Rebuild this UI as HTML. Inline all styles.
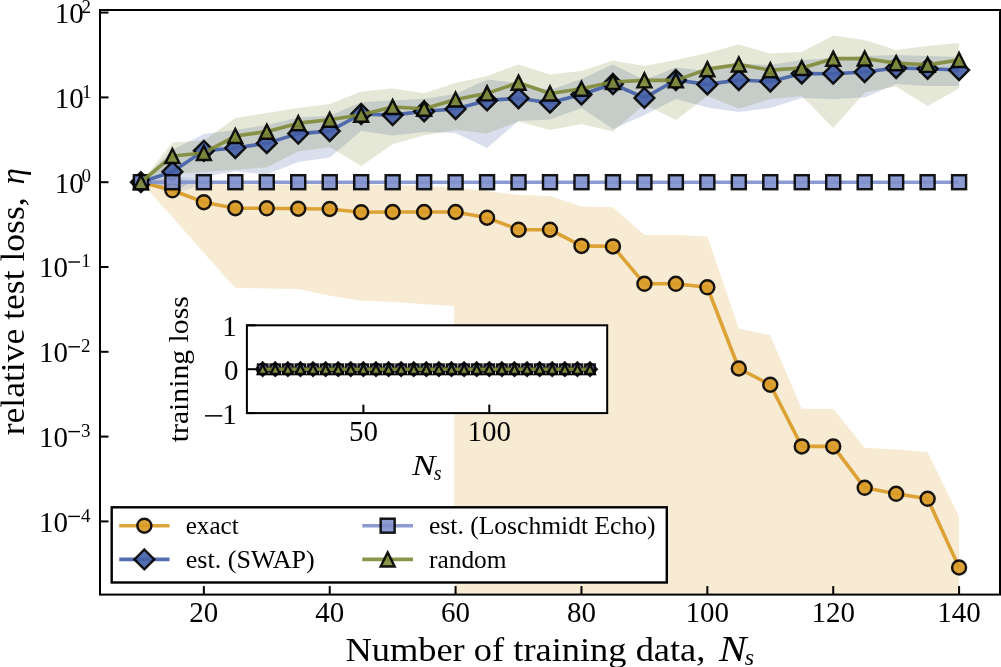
<!DOCTYPE html>
<html><head><meta charset="utf-8"><style>html,body{margin:0;padding:0;background:#fff;overflow:hidden}svg{display:block;will-change:transform}</style></head>
<body><svg width="1001" height="667" viewBox="0 0 1001 667" font-family="Liberation Serif, serif">
<rect width="1001" height="667" fill="#fff"/>
<defs><clipPath id="ax"><rect x="100" y="10" width="900" height="584.6"/></clipPath></defs>
<g clip-path="url(#ax)">
<polygon points="140.91,182.20 172.38,177.00 203.85,183.50 235.31,184.50 266.78,184.50 298.25,184.50 329.72,184.50 361.19,184.50 392.66,185.00 424.13,186.00 455.59,187.50 487.06,191.00 518.53,195.00 550.00,196.00 581.47,206.50 612.94,207.20 644.41,235.10 675.87,235.10 707.34,236.50 738.81,328.50 770.28,335.30 801.75,408.80 833.22,408.80 864.69,447.80 896.15,449.50 927.62,451.90 959.09,516.50 959.09,2000.00 454.20,2000.00 454.20,305.90 424.13,304.20 392.66,301.80 361.19,300.80 329.72,295.70 298.25,289.00 266.78,288.50 235.31,288.00 203.85,253.00 172.38,217.00 140.91,182.20" fill="#d99a25" fill-opacity="0.2"/>
<polygon points="140.91,182.20 172.38,150.00 203.85,134.00 235.31,130.00 266.78,125.00 298.25,117.60 329.72,115.80 361.19,102.30 392.66,100.50 424.13,98.70 455.59,94.00 487.06,79.60 518.53,83.00 550.00,90.00 581.47,79.00 612.94,64.40 644.41,80.00 675.87,67.60 707.34,71.00 738.81,63.60 770.28,65.00 801.75,60.00 833.22,58.00 864.69,56.00 896.15,55.00 927.62,56.00 959.09,57.00 959.09,86.00 927.62,86.00 896.15,84.00 864.69,97.50 833.22,99.00 801.75,98.00 770.28,108.00 738.81,112.00 707.34,107.50 675.87,99.00 644.41,115.00 612.94,129.00 581.47,108.00 550.00,119.50 518.53,121.00 487.06,148.00 455.59,133.00 424.13,132.00 392.66,135.60 361.19,131.00 329.72,157.40 298.25,162.00 266.78,174.50 235.31,171.30 203.85,176.50 172.38,192.00 140.91,182.20" fill="#435ea6" fill-opacity="0.2"/>
<polygon points="140.91,182.20 172.38,176.00 203.85,180.00 235.31,182.20 266.78,182.20 298.25,182.20 329.72,182.20 361.19,182.20 392.66,182.20 424.13,182.20 455.59,182.20 487.06,182.20 518.53,182.20 550.00,182.20 581.47,182.20 612.94,182.20 644.41,182.20 675.87,182.20 707.34,182.20 738.81,182.20 770.28,182.20 801.75,182.20 833.22,182.20 864.69,182.20 896.15,182.20 927.62,182.20 959.09,182.20 959.09,182.20 927.62,182.20 896.15,182.20 864.69,182.20 833.22,182.20 801.75,182.20 770.28,182.20 738.81,182.20 707.34,182.20 675.87,182.20 644.41,182.20 612.94,182.20 581.47,182.20 550.00,182.20 518.53,182.20 487.06,182.20 455.59,182.20 424.13,182.20 392.66,182.20 361.19,182.20 329.72,182.20 298.25,182.20 266.78,182.20 235.31,182.20 203.85,184.50 172.38,194.00 140.91,182.20" fill="#7f90cd" fill-opacity="0.2"/>
<polygon points="140.91,182.20 172.38,142.50 203.85,140.50 235.31,118.00 266.78,113.00 298.25,108.00 329.72,104.00 361.19,91.50 392.66,88.40 424.13,93.30 455.59,83.00 487.06,76.00 518.53,64.40 550.00,74.40 581.47,71.00 612.94,60.40 644.41,66.00 675.87,60.00 707.34,53.00 738.81,44.40 770.28,53.60 801.75,52.00 833.22,35.40 864.69,40.00 896.15,50.00 927.62,46.00 959.09,43.00 959.09,88.40 927.62,106.00 896.15,86.50 864.69,92.50 833.22,128.00 801.75,96.00 770.28,99.00 738.81,108.80 707.34,96.00 675.87,120.00 644.41,104.50 612.94,131.40 581.47,124.00 550.00,130.00 518.53,121.50 487.06,133.50 455.59,130.00 424.13,135.30 392.66,144.20 361.19,166.00 329.72,147.10 298.25,151.60 266.78,167.30 235.31,169.70 203.85,172.00 172.38,174.00 140.91,182.20" fill="#7e8937" fill-opacity="0.2"/>
<polyline points="140.91,182.20 172.38,190.30 203.85,202.20 235.31,208.20 266.78,208.30 298.25,208.70 329.72,209.00 361.19,212.20 392.66,212.00 424.13,212.00 455.59,212.00 487.06,217.70 518.53,229.70 550.00,229.70 581.47,245.90 612.94,246.40 644.41,283.80 675.87,283.80 707.34,287.30 738.81,368.50 770.28,384.70 801.75,446.40 833.22,446.40 864.69,487.80 896.15,493.80 927.62,498.80 959.09,567.50" fill="none" stroke="#d99a25" stroke-opacity="0.9" stroke-width="3.6" stroke-linejoin="round" stroke-linecap="butt"/>
<circle cx="140.91" cy="182.20" r="7.00" fill="#d99a25" stroke="#000" stroke-width="2.45" fill-opacity="0.9" stroke-opacity="0.9"/>
<circle cx="172.38" cy="190.30" r="7.00" fill="#d99a25" stroke="#000" stroke-width="2.45" fill-opacity="0.9" stroke-opacity="0.9"/>
<circle cx="203.85" cy="202.20" r="7.00" fill="#d99a25" stroke="#000" stroke-width="2.45" fill-opacity="0.9" stroke-opacity="0.9"/>
<circle cx="235.31" cy="208.20" r="7.00" fill="#d99a25" stroke="#000" stroke-width="2.45" fill-opacity="0.9" stroke-opacity="0.9"/>
<circle cx="266.78" cy="208.30" r="7.00" fill="#d99a25" stroke="#000" stroke-width="2.45" fill-opacity="0.9" stroke-opacity="0.9"/>
<circle cx="298.25" cy="208.70" r="7.00" fill="#d99a25" stroke="#000" stroke-width="2.45" fill-opacity="0.9" stroke-opacity="0.9"/>
<circle cx="329.72" cy="209.00" r="7.00" fill="#d99a25" stroke="#000" stroke-width="2.45" fill-opacity="0.9" stroke-opacity="0.9"/>
<circle cx="361.19" cy="212.20" r="7.00" fill="#d99a25" stroke="#000" stroke-width="2.45" fill-opacity="0.9" stroke-opacity="0.9"/>
<circle cx="392.66" cy="212.00" r="7.00" fill="#d99a25" stroke="#000" stroke-width="2.45" fill-opacity="0.9" stroke-opacity="0.9"/>
<circle cx="424.13" cy="212.00" r="7.00" fill="#d99a25" stroke="#000" stroke-width="2.45" fill-opacity="0.9" stroke-opacity="0.9"/>
<circle cx="455.59" cy="212.00" r="7.00" fill="#d99a25" stroke="#000" stroke-width="2.45" fill-opacity="0.9" stroke-opacity="0.9"/>
<circle cx="487.06" cy="217.70" r="7.00" fill="#d99a25" stroke="#000" stroke-width="2.45" fill-opacity="0.9" stroke-opacity="0.9"/>
<circle cx="518.53" cy="229.70" r="7.00" fill="#d99a25" stroke="#000" stroke-width="2.45" fill-opacity="0.9" stroke-opacity="0.9"/>
<circle cx="550.00" cy="229.70" r="7.00" fill="#d99a25" stroke="#000" stroke-width="2.45" fill-opacity="0.9" stroke-opacity="0.9"/>
<circle cx="581.47" cy="245.90" r="7.00" fill="#d99a25" stroke="#000" stroke-width="2.45" fill-opacity="0.9" stroke-opacity="0.9"/>
<circle cx="612.94" cy="246.40" r="7.00" fill="#d99a25" stroke="#000" stroke-width="2.45" fill-opacity="0.9" stroke-opacity="0.9"/>
<circle cx="644.41" cy="283.80" r="7.00" fill="#d99a25" stroke="#000" stroke-width="2.45" fill-opacity="0.9" stroke-opacity="0.9"/>
<circle cx="675.87" cy="283.80" r="7.00" fill="#d99a25" stroke="#000" stroke-width="2.45" fill-opacity="0.9" stroke-opacity="0.9"/>
<circle cx="707.34" cy="287.30" r="7.00" fill="#d99a25" stroke="#000" stroke-width="2.45" fill-opacity="0.9" stroke-opacity="0.9"/>
<circle cx="738.81" cy="368.50" r="7.00" fill="#d99a25" stroke="#000" stroke-width="2.45" fill-opacity="0.9" stroke-opacity="0.9"/>
<circle cx="770.28" cy="384.70" r="7.00" fill="#d99a25" stroke="#000" stroke-width="2.45" fill-opacity="0.9" stroke-opacity="0.9"/>
<circle cx="801.75" cy="446.40" r="7.00" fill="#d99a25" stroke="#000" stroke-width="2.45" fill-opacity="0.9" stroke-opacity="0.9"/>
<circle cx="833.22" cy="446.40" r="7.00" fill="#d99a25" stroke="#000" stroke-width="2.45" fill-opacity="0.9" stroke-opacity="0.9"/>
<circle cx="864.69" cy="487.80" r="7.00" fill="#d99a25" stroke="#000" stroke-width="2.45" fill-opacity="0.9" stroke-opacity="0.9"/>
<circle cx="896.15" cy="493.80" r="7.00" fill="#d99a25" stroke="#000" stroke-width="2.45" fill-opacity="0.9" stroke-opacity="0.9"/>
<circle cx="927.62" cy="498.80" r="7.00" fill="#d99a25" stroke="#000" stroke-width="2.45" fill-opacity="0.9" stroke-opacity="0.9"/>
<circle cx="959.09" cy="567.50" r="7.00" fill="#d99a25" stroke="#000" stroke-width="2.45" fill-opacity="0.9" stroke-opacity="0.9"/>
<polyline points="140.91,182.20 172.38,171.70 203.85,150.80 235.31,148.00 266.78,143.20 298.25,133.60 329.72,131.10 361.19,114.00 392.66,115.10 424.13,111.30 455.59,109.00 487.06,100.40 518.53,98.30 550.00,102.70 581.47,94.50 612.94,84.00 644.41,97.90 675.87,80.00 707.34,84.40 738.81,80.00 770.28,81.50 801.75,73.50 833.22,73.70 864.69,72.00 896.15,68.00 927.62,68.80 959.09,70.00" fill="none" stroke="#435ea6" stroke-opacity="0.9" stroke-width="3.6" stroke-linejoin="round" stroke-linecap="butt"/>
<polygon points="140.91,172.30 150.81,182.20 140.91,192.10 131.01,182.20" fill="#435ea6" stroke="#000" stroke-width="2.45" fill-opacity="0.9" stroke-opacity="0.9" stroke-linejoin="miter"/>
<polygon points="172.38,161.80 182.28,171.70 172.38,181.60 162.48,171.70" fill="#435ea6" stroke="#000" stroke-width="2.45" fill-opacity="0.9" stroke-opacity="0.9" stroke-linejoin="miter"/>
<polygon points="203.85,140.90 213.75,150.80 203.85,160.70 193.95,150.80" fill="#435ea6" stroke="#000" stroke-width="2.45" fill-opacity="0.9" stroke-opacity="0.9" stroke-linejoin="miter"/>
<polygon points="235.31,138.10 245.21,148.00 235.31,157.90 225.42,148.00" fill="#435ea6" stroke="#000" stroke-width="2.45" fill-opacity="0.9" stroke-opacity="0.9" stroke-linejoin="miter"/>
<polygon points="266.78,133.30 276.68,143.20 266.78,153.10 256.88,143.20" fill="#435ea6" stroke="#000" stroke-width="2.45" fill-opacity="0.9" stroke-opacity="0.9" stroke-linejoin="miter"/>
<polygon points="298.25,123.70 308.15,133.60 298.25,143.50 288.35,133.60" fill="#435ea6" stroke="#000" stroke-width="2.45" fill-opacity="0.9" stroke-opacity="0.9" stroke-linejoin="miter"/>
<polygon points="329.72,121.20 339.62,131.10 329.72,141.00 319.82,131.10" fill="#435ea6" stroke="#000" stroke-width="2.45" fill-opacity="0.9" stroke-opacity="0.9" stroke-linejoin="miter"/>
<polygon points="361.19,104.10 371.09,114.00 361.19,123.90 351.29,114.00" fill="#435ea6" stroke="#000" stroke-width="2.45" fill-opacity="0.9" stroke-opacity="0.9" stroke-linejoin="miter"/>
<polygon points="392.66,105.20 402.56,115.10 392.66,125.00 382.76,115.10" fill="#435ea6" stroke="#000" stroke-width="2.45" fill-opacity="0.9" stroke-opacity="0.9" stroke-linejoin="miter"/>
<polygon points="424.13,101.40 434.03,111.30 424.13,121.20 414.23,111.30" fill="#435ea6" stroke="#000" stroke-width="2.45" fill-opacity="0.9" stroke-opacity="0.9" stroke-linejoin="miter"/>
<polygon points="455.59,99.10 465.49,109.00 455.59,118.90 445.70,109.00" fill="#435ea6" stroke="#000" stroke-width="2.45" fill-opacity="0.9" stroke-opacity="0.9" stroke-linejoin="miter"/>
<polygon points="487.06,90.50 496.96,100.40 487.06,110.30 477.16,100.40" fill="#435ea6" stroke="#000" stroke-width="2.45" fill-opacity="0.9" stroke-opacity="0.9" stroke-linejoin="miter"/>
<polygon points="518.53,88.40 528.43,98.30 518.53,108.20 508.63,98.30" fill="#435ea6" stroke="#000" stroke-width="2.45" fill-opacity="0.9" stroke-opacity="0.9" stroke-linejoin="miter"/>
<polygon points="550.00,92.80 559.90,102.70 550.00,112.60 540.10,102.70" fill="#435ea6" stroke="#000" stroke-width="2.45" fill-opacity="0.9" stroke-opacity="0.9" stroke-linejoin="miter"/>
<polygon points="581.47,84.60 591.37,94.50 581.47,104.40 571.57,94.50" fill="#435ea6" stroke="#000" stroke-width="2.45" fill-opacity="0.9" stroke-opacity="0.9" stroke-linejoin="miter"/>
<polygon points="612.94,74.10 622.84,84.00 612.94,93.90 603.04,84.00" fill="#435ea6" stroke="#000" stroke-width="2.45" fill-opacity="0.9" stroke-opacity="0.9" stroke-linejoin="miter"/>
<polygon points="644.41,88.00 654.30,97.90 644.41,107.80 634.51,97.90" fill="#435ea6" stroke="#000" stroke-width="2.45" fill-opacity="0.9" stroke-opacity="0.9" stroke-linejoin="miter"/>
<polygon points="675.87,70.10 685.77,80.00 675.87,89.90 665.97,80.00" fill="#435ea6" stroke="#000" stroke-width="2.45" fill-opacity="0.9" stroke-opacity="0.9" stroke-linejoin="miter"/>
<polygon points="707.34,74.50 717.24,84.40 707.34,94.30 697.44,84.40" fill="#435ea6" stroke="#000" stroke-width="2.45" fill-opacity="0.9" stroke-opacity="0.9" stroke-linejoin="miter"/>
<polygon points="738.81,70.10 748.71,80.00 738.81,89.90 728.91,80.00" fill="#435ea6" stroke="#000" stroke-width="2.45" fill-opacity="0.9" stroke-opacity="0.9" stroke-linejoin="miter"/>
<polygon points="770.28,71.60 780.18,81.50 770.28,91.40 760.38,81.50" fill="#435ea6" stroke="#000" stroke-width="2.45" fill-opacity="0.9" stroke-opacity="0.9" stroke-linejoin="miter"/>
<polygon points="801.75,63.60 811.65,73.50 801.75,83.40 791.85,73.50" fill="#435ea6" stroke="#000" stroke-width="2.45" fill-opacity="0.9" stroke-opacity="0.9" stroke-linejoin="miter"/>
<polygon points="833.22,63.80 843.12,73.70 833.22,83.60 823.32,73.70" fill="#435ea6" stroke="#000" stroke-width="2.45" fill-opacity="0.9" stroke-opacity="0.9" stroke-linejoin="miter"/>
<polygon points="864.69,62.10 874.58,72.00 864.69,81.90 854.79,72.00" fill="#435ea6" stroke="#000" stroke-width="2.45" fill-opacity="0.9" stroke-opacity="0.9" stroke-linejoin="miter"/>
<polygon points="896.15,58.10 906.05,68.00 896.15,77.90 886.25,68.00" fill="#435ea6" stroke="#000" stroke-width="2.45" fill-opacity="0.9" stroke-opacity="0.9" stroke-linejoin="miter"/>
<polygon points="927.62,58.90 937.52,68.80 927.62,78.70 917.72,68.80" fill="#435ea6" stroke="#000" stroke-width="2.45" fill-opacity="0.9" stroke-opacity="0.9" stroke-linejoin="miter"/>
<polygon points="959.09,60.10 968.99,70.00 959.09,79.90 949.19,70.00" fill="#435ea6" stroke="#000" stroke-width="2.45" fill-opacity="0.9" stroke-opacity="0.9" stroke-linejoin="miter"/>
<polyline points="140.91,182.20 172.38,182.20 203.85,182.20 235.31,182.20 266.78,182.20 298.25,182.20 329.72,182.20 361.19,182.20 392.66,182.20 424.13,182.20 455.59,182.20 487.06,182.20 518.53,182.20 550.00,182.20 581.47,182.20 612.94,182.20 644.41,182.20 675.87,182.20 707.34,182.20 738.81,182.20 770.28,182.20 801.75,182.20 833.22,182.20 864.69,182.20 896.15,182.20 927.62,182.20 959.09,182.20" fill="none" stroke="#7f90cd" stroke-opacity="0.9" stroke-width="3.6" stroke-linejoin="round" stroke-linecap="butt"/>
<rect x="133.91" y="175.20" width="14.00" height="14.00" fill="#7f90cd" stroke="#000" stroke-width="2.45" fill-opacity="0.9" stroke-opacity="0.9"/>
<rect x="165.38" y="175.20" width="14.00" height="14.00" fill="#7f90cd" stroke="#000" stroke-width="2.45" fill-opacity="0.9" stroke-opacity="0.9"/>
<rect x="196.85" y="175.20" width="14.00" height="14.00" fill="#7f90cd" stroke="#000" stroke-width="2.45" fill-opacity="0.9" stroke-opacity="0.9"/>
<rect x="228.31" y="175.20" width="14.00" height="14.00" fill="#7f90cd" stroke="#000" stroke-width="2.45" fill-opacity="0.9" stroke-opacity="0.9"/>
<rect x="259.78" y="175.20" width="14.00" height="14.00" fill="#7f90cd" stroke="#000" stroke-width="2.45" fill-opacity="0.9" stroke-opacity="0.9"/>
<rect x="291.25" y="175.20" width="14.00" height="14.00" fill="#7f90cd" stroke="#000" stroke-width="2.45" fill-opacity="0.9" stroke-opacity="0.9"/>
<rect x="322.72" y="175.20" width="14.00" height="14.00" fill="#7f90cd" stroke="#000" stroke-width="2.45" fill-opacity="0.9" stroke-opacity="0.9"/>
<rect x="354.19" y="175.20" width="14.00" height="14.00" fill="#7f90cd" stroke="#000" stroke-width="2.45" fill-opacity="0.9" stroke-opacity="0.9"/>
<rect x="385.66" y="175.20" width="14.00" height="14.00" fill="#7f90cd" stroke="#000" stroke-width="2.45" fill-opacity="0.9" stroke-opacity="0.9"/>
<rect x="417.13" y="175.20" width="14.00" height="14.00" fill="#7f90cd" stroke="#000" stroke-width="2.45" fill-opacity="0.9" stroke-opacity="0.9"/>
<rect x="448.59" y="175.20" width="14.00" height="14.00" fill="#7f90cd" stroke="#000" stroke-width="2.45" fill-opacity="0.9" stroke-opacity="0.9"/>
<rect x="480.06" y="175.20" width="14.00" height="14.00" fill="#7f90cd" stroke="#000" stroke-width="2.45" fill-opacity="0.9" stroke-opacity="0.9"/>
<rect x="511.53" y="175.20" width="14.00" height="14.00" fill="#7f90cd" stroke="#000" stroke-width="2.45" fill-opacity="0.9" stroke-opacity="0.9"/>
<rect x="543.00" y="175.20" width="14.00" height="14.00" fill="#7f90cd" stroke="#000" stroke-width="2.45" fill-opacity="0.9" stroke-opacity="0.9"/>
<rect x="574.47" y="175.20" width="14.00" height="14.00" fill="#7f90cd" stroke="#000" stroke-width="2.45" fill-opacity="0.9" stroke-opacity="0.9"/>
<rect x="605.94" y="175.20" width="14.00" height="14.00" fill="#7f90cd" stroke="#000" stroke-width="2.45" fill-opacity="0.9" stroke-opacity="0.9"/>
<rect x="637.41" y="175.20" width="14.00" height="14.00" fill="#7f90cd" stroke="#000" stroke-width="2.45" fill-opacity="0.9" stroke-opacity="0.9"/>
<rect x="668.87" y="175.20" width="14.00" height="14.00" fill="#7f90cd" stroke="#000" stroke-width="2.45" fill-opacity="0.9" stroke-opacity="0.9"/>
<rect x="700.34" y="175.20" width="14.00" height="14.00" fill="#7f90cd" stroke="#000" stroke-width="2.45" fill-opacity="0.9" stroke-opacity="0.9"/>
<rect x="731.81" y="175.20" width="14.00" height="14.00" fill="#7f90cd" stroke="#000" stroke-width="2.45" fill-opacity="0.9" stroke-opacity="0.9"/>
<rect x="763.28" y="175.20" width="14.00" height="14.00" fill="#7f90cd" stroke="#000" stroke-width="2.45" fill-opacity="0.9" stroke-opacity="0.9"/>
<rect x="794.75" y="175.20" width="14.00" height="14.00" fill="#7f90cd" stroke="#000" stroke-width="2.45" fill-opacity="0.9" stroke-opacity="0.9"/>
<rect x="826.22" y="175.20" width="14.00" height="14.00" fill="#7f90cd" stroke="#000" stroke-width="2.45" fill-opacity="0.9" stroke-opacity="0.9"/>
<rect x="857.69" y="175.20" width="14.00" height="14.00" fill="#7f90cd" stroke="#000" stroke-width="2.45" fill-opacity="0.9" stroke-opacity="0.9"/>
<rect x="889.15" y="175.20" width="14.00" height="14.00" fill="#7f90cd" stroke="#000" stroke-width="2.45" fill-opacity="0.9" stroke-opacity="0.9"/>
<rect x="920.62" y="175.20" width="14.00" height="14.00" fill="#7f90cd" stroke="#000" stroke-width="2.45" fill-opacity="0.9" stroke-opacity="0.9"/>
<rect x="952.09" y="175.20" width="14.00" height="14.00" fill="#7f90cd" stroke="#000" stroke-width="2.45" fill-opacity="0.9" stroke-opacity="0.9"/>
<polyline points="140.91,182.20 172.38,156.05 203.85,152.95 235.31,136.05 266.78,131.65 298.25,123.15 329.72,119.75 361.19,114.75 392.66,106.95 424.13,108.75 455.59,99.55 487.06,93.35 518.53,82.65 550.00,93.45 581.47,88.75 612.94,81.95 644.41,80.35 675.87,80.35 707.34,69.15 738.81,64.45 770.28,70.15 801.75,67.95 833.22,58.65 864.69,58.45 896.15,63.15 927.62,64.85 959.09,59.95" fill="none" stroke="#7e8937" stroke-opacity="0.9" stroke-width="3.6" stroke-linejoin="round" stroke-linecap="butt"/>
<polygon points="140.91,175.20 147.91,189.20 133.91,189.20" fill="#7e8937" stroke="#000" stroke-width="2.45" fill-opacity="0.9" stroke-opacity="0.9" stroke-linejoin="miter"/>
<polygon points="172.38,149.05 179.38,163.05 165.38,163.05" fill="#7e8937" stroke="#000" stroke-width="2.45" fill-opacity="0.9" stroke-opacity="0.9" stroke-linejoin="miter"/>
<polygon points="203.85,145.95 210.85,159.95 196.85,159.95" fill="#7e8937" stroke="#000" stroke-width="2.45" fill-opacity="0.9" stroke-opacity="0.9" stroke-linejoin="miter"/>
<polygon points="235.31,129.05 242.31,143.05 228.31,143.05" fill="#7e8937" stroke="#000" stroke-width="2.45" fill-opacity="0.9" stroke-opacity="0.9" stroke-linejoin="miter"/>
<polygon points="266.78,124.65 273.78,138.65 259.78,138.65" fill="#7e8937" stroke="#000" stroke-width="2.45" fill-opacity="0.9" stroke-opacity="0.9" stroke-linejoin="miter"/>
<polygon points="298.25,116.15 305.25,130.15 291.25,130.15" fill="#7e8937" stroke="#000" stroke-width="2.45" fill-opacity="0.9" stroke-opacity="0.9" stroke-linejoin="miter"/>
<polygon points="329.72,112.75 336.72,126.75 322.72,126.75" fill="#7e8937" stroke="#000" stroke-width="2.45" fill-opacity="0.9" stroke-opacity="0.9" stroke-linejoin="miter"/>
<polygon points="361.19,107.75 368.19,121.75 354.19,121.75" fill="#7e8937" stroke="#000" stroke-width="2.45" fill-opacity="0.9" stroke-opacity="0.9" stroke-linejoin="miter"/>
<polygon points="392.66,99.95 399.66,113.95 385.66,113.95" fill="#7e8937" stroke="#000" stroke-width="2.45" fill-opacity="0.9" stroke-opacity="0.9" stroke-linejoin="miter"/>
<polygon points="424.13,101.75 431.13,115.75 417.13,115.75" fill="#7e8937" stroke="#000" stroke-width="2.45" fill-opacity="0.9" stroke-opacity="0.9" stroke-linejoin="miter"/>
<polygon points="455.59,92.55 462.59,106.55 448.59,106.55" fill="#7e8937" stroke="#000" stroke-width="2.45" fill-opacity="0.9" stroke-opacity="0.9" stroke-linejoin="miter"/>
<polygon points="487.06,86.35 494.06,100.35 480.06,100.35" fill="#7e8937" stroke="#000" stroke-width="2.45" fill-opacity="0.9" stroke-opacity="0.9" stroke-linejoin="miter"/>
<polygon points="518.53,75.65 525.53,89.65 511.53,89.65" fill="#7e8937" stroke="#000" stroke-width="2.45" fill-opacity="0.9" stroke-opacity="0.9" stroke-linejoin="miter"/>
<polygon points="550.00,86.45 557.00,100.45 543.00,100.45" fill="#7e8937" stroke="#000" stroke-width="2.45" fill-opacity="0.9" stroke-opacity="0.9" stroke-linejoin="miter"/>
<polygon points="581.47,81.75 588.47,95.75 574.47,95.75" fill="#7e8937" stroke="#000" stroke-width="2.45" fill-opacity="0.9" stroke-opacity="0.9" stroke-linejoin="miter"/>
<polygon points="612.94,74.95 619.94,88.95 605.94,88.95" fill="#7e8937" stroke="#000" stroke-width="2.45" fill-opacity="0.9" stroke-opacity="0.9" stroke-linejoin="miter"/>
<polygon points="644.41,73.35 651.41,87.35 637.41,87.35" fill="#7e8937" stroke="#000" stroke-width="2.45" fill-opacity="0.9" stroke-opacity="0.9" stroke-linejoin="miter"/>
<polygon points="675.87,73.35 682.87,87.35 668.87,87.35" fill="#7e8937" stroke="#000" stroke-width="2.45" fill-opacity="0.9" stroke-opacity="0.9" stroke-linejoin="miter"/>
<polygon points="707.34,62.15 714.34,76.15 700.34,76.15" fill="#7e8937" stroke="#000" stroke-width="2.45" fill-opacity="0.9" stroke-opacity="0.9" stroke-linejoin="miter"/>
<polygon points="738.81,57.45 745.81,71.45 731.81,71.45" fill="#7e8937" stroke="#000" stroke-width="2.45" fill-opacity="0.9" stroke-opacity="0.9" stroke-linejoin="miter"/>
<polygon points="770.28,63.15 777.28,77.15 763.28,77.15" fill="#7e8937" stroke="#000" stroke-width="2.45" fill-opacity="0.9" stroke-opacity="0.9" stroke-linejoin="miter"/>
<polygon points="801.75,60.95 808.75,74.95 794.75,74.95" fill="#7e8937" stroke="#000" stroke-width="2.45" fill-opacity="0.9" stroke-opacity="0.9" stroke-linejoin="miter"/>
<polygon points="833.22,51.65 840.22,65.65 826.22,65.65" fill="#7e8937" stroke="#000" stroke-width="2.45" fill-opacity="0.9" stroke-opacity="0.9" stroke-linejoin="miter"/>
<polygon points="864.69,51.45 871.69,65.45 857.69,65.45" fill="#7e8937" stroke="#000" stroke-width="2.45" fill-opacity="0.9" stroke-opacity="0.9" stroke-linejoin="miter"/>
<polygon points="896.15,56.15 903.15,70.15 889.15,70.15" fill="#7e8937" stroke="#000" stroke-width="2.45" fill-opacity="0.9" stroke-opacity="0.9" stroke-linejoin="miter"/>
<polygon points="927.62,57.85 934.62,71.85 920.62,71.85" fill="#7e8937" stroke="#000" stroke-width="2.45" fill-opacity="0.9" stroke-opacity="0.9" stroke-linejoin="miter"/>
<polygon points="959.09,52.95 966.09,66.95 952.09,66.95" fill="#7e8937" stroke="#000" stroke-width="2.45" fill-opacity="0.9" stroke-opacity="0.9" stroke-linejoin="miter"/>
</g>
<rect x="100" y="10" width="900" height="584.6" fill="none" stroke="#000" stroke-width="2"/>
<line x1="203.85" y1="594.6" x2="203.85" y2="586.1" stroke="#000" stroke-width="2"/>
<line x1="329.72" y1="594.6" x2="329.72" y2="586.1" stroke="#000" stroke-width="2"/>
<line x1="455.59" y1="594.6" x2="455.59" y2="586.1" stroke="#000" stroke-width="2"/>
<line x1="581.47" y1="594.6" x2="581.47" y2="586.1" stroke="#000" stroke-width="2"/>
<line x1="707.34" y1="594.6" x2="707.34" y2="586.1" stroke="#000" stroke-width="2"/>
<line x1="833.22" y1="594.6" x2="833.22" y2="586.1" stroke="#000" stroke-width="2"/>
<line x1="959.09" y1="594.6" x2="959.09" y2="586.1" stroke="#000" stroke-width="2"/>
<line x1="100" y1="521.40" x2="108.5" y2="521.40" stroke="#000" stroke-width="2"/>
<line x1="100" y1="436.60" x2="108.5" y2="436.60" stroke="#000" stroke-width="2"/>
<line x1="100" y1="351.80" x2="108.5" y2="351.80" stroke="#000" stroke-width="2"/>
<line x1="100" y1="267.00" x2="108.5" y2="267.00" stroke="#000" stroke-width="2"/>
<line x1="100" y1="182.20" x2="108.5" y2="182.20" stroke="#000" stroke-width="2"/>
<line x1="100" y1="97.40" x2="108.5" y2="97.40" stroke="#000" stroke-width="2"/>
<line x1="100" y1="12.60" x2="108.5" y2="12.60" stroke="#000" stroke-width="2"/>
<text x="203.85" y="622.2" font-size="29" text-anchor="middle">20</text>
<text x="329.72" y="622.2" font-size="29" text-anchor="middle">40</text>
<text x="455.59" y="622.2" font-size="29" text-anchor="middle">60</text>
<text x="581.47" y="622.2" font-size="29" text-anchor="middle">80</text>
<text x="707.34" y="622.2" font-size="29" text-anchor="middle">100</text>
<text x="833.22" y="622.2" font-size="29" text-anchor="middle">120</text>
<text x="959.09" y="622.2" font-size="29" text-anchor="middle">140</text>
<text x="38.9" y="531.70" font-size="29">10</text>
<rect x="68.3" y="515.70" width="11.7" height="1.4" fill="#000"/>
<text x="81.10" y="521.60" font-size="19">4</text>
<text x="38.9" y="446.90" font-size="29">10</text>
<rect x="68.3" y="430.90" width="11.7" height="1.4" fill="#000"/>
<text x="81.10" y="436.80" font-size="19">3</text>
<text x="38.9" y="362.10" font-size="29">10</text>
<rect x="68.3" y="346.10" width="11.7" height="1.4" fill="#000"/>
<text x="81.10" y="352.00" font-size="19">2</text>
<text x="38.9" y="277.30" font-size="29">10</text>
<rect x="68.3" y="261.30" width="11.7" height="1.4" fill="#000"/>
<text x="81.20" y="267.20" font-size="19">1</text>
<text x="54.7" y="192.50" font-size="29">10</text>
<text x="81.60" y="182.40" font-size="19">0</text>
<text x="54.7" y="107.70" font-size="29">10</text>
<text x="82.00" y="97.60" font-size="19">1</text>
<text x="54.7" y="22.90" font-size="29">10</text>
<text x="81.60" y="12.80" font-size="19">2</text>
<text x="345.4" y="660.5" font-size="34" textLength="360" lengthAdjust="spacingAndGlyphs">Number of training data,</text>
<text x="718.9" y="660.5" font-size="35.5" font-style="italic" textLength="27.5" lengthAdjust="spacingAndGlyphs">N</text>
<text x="744.8" y="665.3" font-size="24" font-style="italic">s</text>
<text transform="translate(23.9,435.3) rotate(-90)" x="0" y="0" font-size="33" textLength="238" lengthAdjust="spacingAndGlyphs">relative test loss,</text>
<text transform="translate(23.9,184.5) rotate(-90)" x="0" y="0" font-size="33" font-style="italic">η</text>
<rect x="246.9" y="325.3" width="360.30000000000007" height="87.80000000000001" fill="#fff" stroke="#000" stroke-width="2"/>
<line x1="363.40" y1="413.1" x2="363.40" y2="404.6" stroke="#000" stroke-width="2"/>
<line x1="489.30" y1="413.1" x2="489.30" y2="404.6" stroke="#000" stroke-width="2"/>
<line x1="246.9" y1="325.30" x2="255.4" y2="325.30" stroke="#000" stroke-width="2"/>
<line x1="246.9" y1="369.20" x2="255.4" y2="369.20" stroke="#000" stroke-width="2"/>
<line x1="246.9" y1="413.10" x2="255.4" y2="413.10" stroke="#000" stroke-width="2"/>
<polyline points="262.68,369.20 275.27,369.20 287.86,369.20 300.45,369.20 313.04,369.20 325.63,369.20 338.22,369.20 350.81,369.20 363.40,369.20 375.99,369.20 388.58,369.20 401.17,369.20 413.76,369.20 426.35,369.20 438.94,369.20 451.53,369.20 464.12,369.20 476.71,369.20 489.30,369.20 501.89,369.20 514.48,369.20 527.07,369.20 539.66,369.20 552.25,369.20 564.84,369.20 577.43,369.20 590.02,369.20" fill="none" stroke="#d99a25" stroke-opacity="0.9" stroke-width="3.6" stroke-linejoin="round" stroke-linecap="butt"/>
<circle cx="262.68" cy="369.20" r="4.70" fill="#d99a25" stroke="#000" stroke-width="2.45" fill-opacity="0.9" stroke-opacity="0.9"/>
<circle cx="275.27" cy="369.20" r="4.70" fill="#d99a25" stroke="#000" stroke-width="2.45" fill-opacity="0.9" stroke-opacity="0.9"/>
<circle cx="287.86" cy="369.20" r="4.70" fill="#d99a25" stroke="#000" stroke-width="2.45" fill-opacity="0.9" stroke-opacity="0.9"/>
<circle cx="300.45" cy="369.20" r="4.70" fill="#d99a25" stroke="#000" stroke-width="2.45" fill-opacity="0.9" stroke-opacity="0.9"/>
<circle cx="313.04" cy="369.20" r="4.70" fill="#d99a25" stroke="#000" stroke-width="2.45" fill-opacity="0.9" stroke-opacity="0.9"/>
<circle cx="325.63" cy="369.20" r="4.70" fill="#d99a25" stroke="#000" stroke-width="2.45" fill-opacity="0.9" stroke-opacity="0.9"/>
<circle cx="338.22" cy="369.20" r="4.70" fill="#d99a25" stroke="#000" stroke-width="2.45" fill-opacity="0.9" stroke-opacity="0.9"/>
<circle cx="350.81" cy="369.20" r="4.70" fill="#d99a25" stroke="#000" stroke-width="2.45" fill-opacity="0.9" stroke-opacity="0.9"/>
<circle cx="363.40" cy="369.20" r="4.70" fill="#d99a25" stroke="#000" stroke-width="2.45" fill-opacity="0.9" stroke-opacity="0.9"/>
<circle cx="375.99" cy="369.20" r="4.70" fill="#d99a25" stroke="#000" stroke-width="2.45" fill-opacity="0.9" stroke-opacity="0.9"/>
<circle cx="388.58" cy="369.20" r="4.70" fill="#d99a25" stroke="#000" stroke-width="2.45" fill-opacity="0.9" stroke-opacity="0.9"/>
<circle cx="401.17" cy="369.20" r="4.70" fill="#d99a25" stroke="#000" stroke-width="2.45" fill-opacity="0.9" stroke-opacity="0.9"/>
<circle cx="413.76" cy="369.20" r="4.70" fill="#d99a25" stroke="#000" stroke-width="2.45" fill-opacity="0.9" stroke-opacity="0.9"/>
<circle cx="426.35" cy="369.20" r="4.70" fill="#d99a25" stroke="#000" stroke-width="2.45" fill-opacity="0.9" stroke-opacity="0.9"/>
<circle cx="438.94" cy="369.20" r="4.70" fill="#d99a25" stroke="#000" stroke-width="2.45" fill-opacity="0.9" stroke-opacity="0.9"/>
<circle cx="451.53" cy="369.20" r="4.70" fill="#d99a25" stroke="#000" stroke-width="2.45" fill-opacity="0.9" stroke-opacity="0.9"/>
<circle cx="464.12" cy="369.20" r="4.70" fill="#d99a25" stroke="#000" stroke-width="2.45" fill-opacity="0.9" stroke-opacity="0.9"/>
<circle cx="476.71" cy="369.20" r="4.70" fill="#d99a25" stroke="#000" stroke-width="2.45" fill-opacity="0.9" stroke-opacity="0.9"/>
<circle cx="489.30" cy="369.20" r="4.70" fill="#d99a25" stroke="#000" stroke-width="2.45" fill-opacity="0.9" stroke-opacity="0.9"/>
<circle cx="501.89" cy="369.20" r="4.70" fill="#d99a25" stroke="#000" stroke-width="2.45" fill-opacity="0.9" stroke-opacity="0.9"/>
<circle cx="514.48" cy="369.20" r="4.70" fill="#d99a25" stroke="#000" stroke-width="2.45" fill-opacity="0.9" stroke-opacity="0.9"/>
<circle cx="527.07" cy="369.20" r="4.70" fill="#d99a25" stroke="#000" stroke-width="2.45" fill-opacity="0.9" stroke-opacity="0.9"/>
<circle cx="539.66" cy="369.20" r="4.70" fill="#d99a25" stroke="#000" stroke-width="2.45" fill-opacity="0.9" stroke-opacity="0.9"/>
<circle cx="552.25" cy="369.20" r="4.70" fill="#d99a25" stroke="#000" stroke-width="2.45" fill-opacity="0.9" stroke-opacity="0.9"/>
<circle cx="564.84" cy="369.20" r="4.70" fill="#d99a25" stroke="#000" stroke-width="2.45" fill-opacity="0.9" stroke-opacity="0.9"/>
<circle cx="577.43" cy="369.20" r="4.70" fill="#d99a25" stroke="#000" stroke-width="2.45" fill-opacity="0.9" stroke-opacity="0.9"/>
<circle cx="590.02" cy="369.20" r="4.70" fill="#d99a25" stroke="#000" stroke-width="2.45" fill-opacity="0.9" stroke-opacity="0.9"/>
<polyline points="262.68,369.20 275.27,369.20 287.86,369.20 300.45,369.20 313.04,369.20 325.63,369.20 338.22,369.20 350.81,369.20 363.40,369.20 375.99,369.20 388.58,369.20 401.17,369.20 413.76,369.20 426.35,369.20 438.94,369.20 451.53,369.20 464.12,369.20 476.71,369.20 489.30,369.20 501.89,369.20 514.48,369.20 527.07,369.20 539.66,369.20 552.25,369.20 564.84,369.20 577.43,369.20 590.02,369.20" fill="none" stroke="#435ea6" stroke-opacity="0.9" stroke-width="3.6" stroke-linejoin="round" stroke-linecap="butt"/>
<polygon points="262.68,362.55 269.33,369.20 262.68,375.85 256.03,369.20" fill="#435ea6" stroke="#000" stroke-width="2.45" fill-opacity="0.9" stroke-opacity="0.9" stroke-linejoin="miter"/>
<polygon points="275.27,362.55 281.92,369.20 275.27,375.85 268.62,369.20" fill="#435ea6" stroke="#000" stroke-width="2.45" fill-opacity="0.9" stroke-opacity="0.9" stroke-linejoin="miter"/>
<polygon points="287.86,362.55 294.51,369.20 287.86,375.85 281.21,369.20" fill="#435ea6" stroke="#000" stroke-width="2.45" fill-opacity="0.9" stroke-opacity="0.9" stroke-linejoin="miter"/>
<polygon points="300.45,362.55 307.10,369.20 300.45,375.85 293.80,369.20" fill="#435ea6" stroke="#000" stroke-width="2.45" fill-opacity="0.9" stroke-opacity="0.9" stroke-linejoin="miter"/>
<polygon points="313.04,362.55 319.69,369.20 313.04,375.85 306.39,369.20" fill="#435ea6" stroke="#000" stroke-width="2.45" fill-opacity="0.9" stroke-opacity="0.9" stroke-linejoin="miter"/>
<polygon points="325.63,362.55 332.28,369.20 325.63,375.85 318.98,369.20" fill="#435ea6" stroke="#000" stroke-width="2.45" fill-opacity="0.9" stroke-opacity="0.9" stroke-linejoin="miter"/>
<polygon points="338.22,362.55 344.87,369.20 338.22,375.85 331.57,369.20" fill="#435ea6" stroke="#000" stroke-width="2.45" fill-opacity="0.9" stroke-opacity="0.9" stroke-linejoin="miter"/>
<polygon points="350.81,362.55 357.46,369.20 350.81,375.85 344.16,369.20" fill="#435ea6" stroke="#000" stroke-width="2.45" fill-opacity="0.9" stroke-opacity="0.9" stroke-linejoin="miter"/>
<polygon points="363.40,362.55 370.05,369.20 363.40,375.85 356.75,369.20" fill="#435ea6" stroke="#000" stroke-width="2.45" fill-opacity="0.9" stroke-opacity="0.9" stroke-linejoin="miter"/>
<polygon points="375.99,362.55 382.64,369.20 375.99,375.85 369.34,369.20" fill="#435ea6" stroke="#000" stroke-width="2.45" fill-opacity="0.9" stroke-opacity="0.9" stroke-linejoin="miter"/>
<polygon points="388.58,362.55 395.23,369.20 388.58,375.85 381.93,369.20" fill="#435ea6" stroke="#000" stroke-width="2.45" fill-opacity="0.9" stroke-opacity="0.9" stroke-linejoin="miter"/>
<polygon points="401.17,362.55 407.82,369.20 401.17,375.85 394.52,369.20" fill="#435ea6" stroke="#000" stroke-width="2.45" fill-opacity="0.9" stroke-opacity="0.9" stroke-linejoin="miter"/>
<polygon points="413.76,362.55 420.41,369.20 413.76,375.85 407.11,369.20" fill="#435ea6" stroke="#000" stroke-width="2.45" fill-opacity="0.9" stroke-opacity="0.9" stroke-linejoin="miter"/>
<polygon points="426.35,362.55 433.00,369.20 426.35,375.85 419.70,369.20" fill="#435ea6" stroke="#000" stroke-width="2.45" fill-opacity="0.9" stroke-opacity="0.9" stroke-linejoin="miter"/>
<polygon points="438.94,362.55 445.59,369.20 438.94,375.85 432.29,369.20" fill="#435ea6" stroke="#000" stroke-width="2.45" fill-opacity="0.9" stroke-opacity="0.9" stroke-linejoin="miter"/>
<polygon points="451.53,362.55 458.18,369.20 451.53,375.85 444.88,369.20" fill="#435ea6" stroke="#000" stroke-width="2.45" fill-opacity="0.9" stroke-opacity="0.9" stroke-linejoin="miter"/>
<polygon points="464.12,362.55 470.77,369.20 464.12,375.85 457.47,369.20" fill="#435ea6" stroke="#000" stroke-width="2.45" fill-opacity="0.9" stroke-opacity="0.9" stroke-linejoin="miter"/>
<polygon points="476.71,362.55 483.36,369.20 476.71,375.85 470.06,369.20" fill="#435ea6" stroke="#000" stroke-width="2.45" fill-opacity="0.9" stroke-opacity="0.9" stroke-linejoin="miter"/>
<polygon points="489.30,362.55 495.95,369.20 489.30,375.85 482.65,369.20" fill="#435ea6" stroke="#000" stroke-width="2.45" fill-opacity="0.9" stroke-opacity="0.9" stroke-linejoin="miter"/>
<polygon points="501.89,362.55 508.54,369.20 501.89,375.85 495.24,369.20" fill="#435ea6" stroke="#000" stroke-width="2.45" fill-opacity="0.9" stroke-opacity="0.9" stroke-linejoin="miter"/>
<polygon points="514.48,362.55 521.13,369.20 514.48,375.85 507.83,369.20" fill="#435ea6" stroke="#000" stroke-width="2.45" fill-opacity="0.9" stroke-opacity="0.9" stroke-linejoin="miter"/>
<polygon points="527.07,362.55 533.72,369.20 527.07,375.85 520.42,369.20" fill="#435ea6" stroke="#000" stroke-width="2.45" fill-opacity="0.9" stroke-opacity="0.9" stroke-linejoin="miter"/>
<polygon points="539.66,362.55 546.31,369.20 539.66,375.85 533.01,369.20" fill="#435ea6" stroke="#000" stroke-width="2.45" fill-opacity="0.9" stroke-opacity="0.9" stroke-linejoin="miter"/>
<polygon points="552.25,362.55 558.90,369.20 552.25,375.85 545.60,369.20" fill="#435ea6" stroke="#000" stroke-width="2.45" fill-opacity="0.9" stroke-opacity="0.9" stroke-linejoin="miter"/>
<polygon points="564.84,362.55 571.49,369.20 564.84,375.85 558.19,369.20" fill="#435ea6" stroke="#000" stroke-width="2.45" fill-opacity="0.9" stroke-opacity="0.9" stroke-linejoin="miter"/>
<polygon points="577.43,362.55 584.08,369.20 577.43,375.85 570.78,369.20" fill="#435ea6" stroke="#000" stroke-width="2.45" fill-opacity="0.9" stroke-opacity="0.9" stroke-linejoin="miter"/>
<polygon points="590.02,362.55 596.67,369.20 590.02,375.85 583.37,369.20" fill="#435ea6" stroke="#000" stroke-width="2.45" fill-opacity="0.9" stroke-opacity="0.9" stroke-linejoin="miter"/>
<polyline points="262.68,369.20 275.27,369.20 287.86,369.20 300.45,369.20 313.04,369.20 325.63,369.20 338.22,369.20 350.81,369.20 363.40,369.20 375.99,369.20 388.58,369.20 401.17,369.20 413.76,369.20 426.35,369.20 438.94,369.20 451.53,369.20 464.12,369.20 476.71,369.20 489.30,369.20 501.89,369.20 514.48,369.20 527.07,369.20 539.66,369.20 552.25,369.20 564.84,369.20 577.43,369.20 590.02,369.20" fill="none" stroke="#7f90cd" stroke-opacity="0.9" stroke-width="3.6" stroke-linejoin="round" stroke-linecap="butt"/>
<rect x="257.98" y="364.50" width="9.40" height="9.40" fill="#7f90cd" stroke="#000" stroke-width="2.45" fill-opacity="0.9" stroke-opacity="0.9"/>
<rect x="270.57" y="364.50" width="9.40" height="9.40" fill="#7f90cd" stroke="#000" stroke-width="2.45" fill-opacity="0.9" stroke-opacity="0.9"/>
<rect x="283.16" y="364.50" width="9.40" height="9.40" fill="#7f90cd" stroke="#000" stroke-width="2.45" fill-opacity="0.9" stroke-opacity="0.9"/>
<rect x="295.75" y="364.50" width="9.40" height="9.40" fill="#7f90cd" stroke="#000" stroke-width="2.45" fill-opacity="0.9" stroke-opacity="0.9"/>
<rect x="308.34" y="364.50" width="9.40" height="9.40" fill="#7f90cd" stroke="#000" stroke-width="2.45" fill-opacity="0.9" stroke-opacity="0.9"/>
<rect x="320.93" y="364.50" width="9.40" height="9.40" fill="#7f90cd" stroke="#000" stroke-width="2.45" fill-opacity="0.9" stroke-opacity="0.9"/>
<rect x="333.52" y="364.50" width="9.40" height="9.40" fill="#7f90cd" stroke="#000" stroke-width="2.45" fill-opacity="0.9" stroke-opacity="0.9"/>
<rect x="346.11" y="364.50" width="9.40" height="9.40" fill="#7f90cd" stroke="#000" stroke-width="2.45" fill-opacity="0.9" stroke-opacity="0.9"/>
<rect x="358.70" y="364.50" width="9.40" height="9.40" fill="#7f90cd" stroke="#000" stroke-width="2.45" fill-opacity="0.9" stroke-opacity="0.9"/>
<rect x="371.29" y="364.50" width="9.40" height="9.40" fill="#7f90cd" stroke="#000" stroke-width="2.45" fill-opacity="0.9" stroke-opacity="0.9"/>
<rect x="383.88" y="364.50" width="9.40" height="9.40" fill="#7f90cd" stroke="#000" stroke-width="2.45" fill-opacity="0.9" stroke-opacity="0.9"/>
<rect x="396.47" y="364.50" width="9.40" height="9.40" fill="#7f90cd" stroke="#000" stroke-width="2.45" fill-opacity="0.9" stroke-opacity="0.9"/>
<rect x="409.06" y="364.50" width="9.40" height="9.40" fill="#7f90cd" stroke="#000" stroke-width="2.45" fill-opacity="0.9" stroke-opacity="0.9"/>
<rect x="421.65" y="364.50" width="9.40" height="9.40" fill="#7f90cd" stroke="#000" stroke-width="2.45" fill-opacity="0.9" stroke-opacity="0.9"/>
<rect x="434.24" y="364.50" width="9.40" height="9.40" fill="#7f90cd" stroke="#000" stroke-width="2.45" fill-opacity="0.9" stroke-opacity="0.9"/>
<rect x="446.83" y="364.50" width="9.40" height="9.40" fill="#7f90cd" stroke="#000" stroke-width="2.45" fill-opacity="0.9" stroke-opacity="0.9"/>
<rect x="459.42" y="364.50" width="9.40" height="9.40" fill="#7f90cd" stroke="#000" stroke-width="2.45" fill-opacity="0.9" stroke-opacity="0.9"/>
<rect x="472.01" y="364.50" width="9.40" height="9.40" fill="#7f90cd" stroke="#000" stroke-width="2.45" fill-opacity="0.9" stroke-opacity="0.9"/>
<rect x="484.60" y="364.50" width="9.40" height="9.40" fill="#7f90cd" stroke="#000" stroke-width="2.45" fill-opacity="0.9" stroke-opacity="0.9"/>
<rect x="497.19" y="364.50" width="9.40" height="9.40" fill="#7f90cd" stroke="#000" stroke-width="2.45" fill-opacity="0.9" stroke-opacity="0.9"/>
<rect x="509.78" y="364.50" width="9.40" height="9.40" fill="#7f90cd" stroke="#000" stroke-width="2.45" fill-opacity="0.9" stroke-opacity="0.9"/>
<rect x="522.37" y="364.50" width="9.40" height="9.40" fill="#7f90cd" stroke="#000" stroke-width="2.45" fill-opacity="0.9" stroke-opacity="0.9"/>
<rect x="534.96" y="364.50" width="9.40" height="9.40" fill="#7f90cd" stroke="#000" stroke-width="2.45" fill-opacity="0.9" stroke-opacity="0.9"/>
<rect x="547.55" y="364.50" width="9.40" height="9.40" fill="#7f90cd" stroke="#000" stroke-width="2.45" fill-opacity="0.9" stroke-opacity="0.9"/>
<rect x="560.14" y="364.50" width="9.40" height="9.40" fill="#7f90cd" stroke="#000" stroke-width="2.45" fill-opacity="0.9" stroke-opacity="0.9"/>
<rect x="572.73" y="364.50" width="9.40" height="9.40" fill="#7f90cd" stroke="#000" stroke-width="2.45" fill-opacity="0.9" stroke-opacity="0.9"/>
<rect x="585.32" y="364.50" width="9.40" height="9.40" fill="#7f90cd" stroke="#000" stroke-width="2.45" fill-opacity="0.9" stroke-opacity="0.9"/>
<polyline points="262.68,369.20 275.27,369.20 287.86,369.20 300.45,369.20 313.04,369.20 325.63,369.20 338.22,369.20 350.81,369.20 363.40,369.20 375.99,369.20 388.58,369.20 401.17,369.20 413.76,369.20 426.35,369.20 438.94,369.20 451.53,369.20 464.12,369.20 476.71,369.20 489.30,369.20 501.89,369.20 514.48,369.20 527.07,369.20 539.66,369.20 552.25,369.20 564.84,369.20 577.43,369.20 590.02,369.20" fill="none" stroke="#7e8937" stroke-opacity="0.9" stroke-width="3.6" stroke-linejoin="round" stroke-linecap="butt"/>
<polygon points="262.68,364.50 267.38,373.90 257.98,373.90" fill="#7e8937" stroke="#000" stroke-width="2.45" fill-opacity="0.9" stroke-opacity="0.9" stroke-linejoin="miter"/>
<polygon points="275.27,364.50 279.97,373.90 270.57,373.90" fill="#7e8937" stroke="#000" stroke-width="2.45" fill-opacity="0.9" stroke-opacity="0.9" stroke-linejoin="miter"/>
<polygon points="287.86,364.50 292.56,373.90 283.16,373.90" fill="#7e8937" stroke="#000" stroke-width="2.45" fill-opacity="0.9" stroke-opacity="0.9" stroke-linejoin="miter"/>
<polygon points="300.45,364.50 305.15,373.90 295.75,373.90" fill="#7e8937" stroke="#000" stroke-width="2.45" fill-opacity="0.9" stroke-opacity="0.9" stroke-linejoin="miter"/>
<polygon points="313.04,364.50 317.74,373.90 308.34,373.90" fill="#7e8937" stroke="#000" stroke-width="2.45" fill-opacity="0.9" stroke-opacity="0.9" stroke-linejoin="miter"/>
<polygon points="325.63,364.50 330.33,373.90 320.93,373.90" fill="#7e8937" stroke="#000" stroke-width="2.45" fill-opacity="0.9" stroke-opacity="0.9" stroke-linejoin="miter"/>
<polygon points="338.22,364.50 342.92,373.90 333.52,373.90" fill="#7e8937" stroke="#000" stroke-width="2.45" fill-opacity="0.9" stroke-opacity="0.9" stroke-linejoin="miter"/>
<polygon points="350.81,364.50 355.51,373.90 346.11,373.90" fill="#7e8937" stroke="#000" stroke-width="2.45" fill-opacity="0.9" stroke-opacity="0.9" stroke-linejoin="miter"/>
<polygon points="363.40,364.50 368.10,373.90 358.70,373.90" fill="#7e8937" stroke="#000" stroke-width="2.45" fill-opacity="0.9" stroke-opacity="0.9" stroke-linejoin="miter"/>
<polygon points="375.99,364.50 380.69,373.90 371.29,373.90" fill="#7e8937" stroke="#000" stroke-width="2.45" fill-opacity="0.9" stroke-opacity="0.9" stroke-linejoin="miter"/>
<polygon points="388.58,364.50 393.28,373.90 383.88,373.90" fill="#7e8937" stroke="#000" stroke-width="2.45" fill-opacity="0.9" stroke-opacity="0.9" stroke-linejoin="miter"/>
<polygon points="401.17,364.50 405.87,373.90 396.47,373.90" fill="#7e8937" stroke="#000" stroke-width="2.45" fill-opacity="0.9" stroke-opacity="0.9" stroke-linejoin="miter"/>
<polygon points="413.76,364.50 418.46,373.90 409.06,373.90" fill="#7e8937" stroke="#000" stroke-width="2.45" fill-opacity="0.9" stroke-opacity="0.9" stroke-linejoin="miter"/>
<polygon points="426.35,364.50 431.05,373.90 421.65,373.90" fill="#7e8937" stroke="#000" stroke-width="2.45" fill-opacity="0.9" stroke-opacity="0.9" stroke-linejoin="miter"/>
<polygon points="438.94,364.50 443.64,373.90 434.24,373.90" fill="#7e8937" stroke="#000" stroke-width="2.45" fill-opacity="0.9" stroke-opacity="0.9" stroke-linejoin="miter"/>
<polygon points="451.53,364.50 456.23,373.90 446.83,373.90" fill="#7e8937" stroke="#000" stroke-width="2.45" fill-opacity="0.9" stroke-opacity="0.9" stroke-linejoin="miter"/>
<polygon points="464.12,364.50 468.82,373.90 459.42,373.90" fill="#7e8937" stroke="#000" stroke-width="2.45" fill-opacity="0.9" stroke-opacity="0.9" stroke-linejoin="miter"/>
<polygon points="476.71,364.50 481.41,373.90 472.01,373.90" fill="#7e8937" stroke="#000" stroke-width="2.45" fill-opacity="0.9" stroke-opacity="0.9" stroke-linejoin="miter"/>
<polygon points="489.30,364.50 494.00,373.90 484.60,373.90" fill="#7e8937" stroke="#000" stroke-width="2.45" fill-opacity="0.9" stroke-opacity="0.9" stroke-linejoin="miter"/>
<polygon points="501.89,364.50 506.59,373.90 497.19,373.90" fill="#7e8937" stroke="#000" stroke-width="2.45" fill-opacity="0.9" stroke-opacity="0.9" stroke-linejoin="miter"/>
<polygon points="514.48,364.50 519.18,373.90 509.78,373.90" fill="#7e8937" stroke="#000" stroke-width="2.45" fill-opacity="0.9" stroke-opacity="0.9" stroke-linejoin="miter"/>
<polygon points="527.07,364.50 531.77,373.90 522.37,373.90" fill="#7e8937" stroke="#000" stroke-width="2.45" fill-opacity="0.9" stroke-opacity="0.9" stroke-linejoin="miter"/>
<polygon points="539.66,364.50 544.36,373.90 534.96,373.90" fill="#7e8937" stroke="#000" stroke-width="2.45" fill-opacity="0.9" stroke-opacity="0.9" stroke-linejoin="miter"/>
<polygon points="552.25,364.50 556.95,373.90 547.55,373.90" fill="#7e8937" stroke="#000" stroke-width="2.45" fill-opacity="0.9" stroke-opacity="0.9" stroke-linejoin="miter"/>
<polygon points="564.84,364.50 569.54,373.90 560.14,373.90" fill="#7e8937" stroke="#000" stroke-width="2.45" fill-opacity="0.9" stroke-opacity="0.9" stroke-linejoin="miter"/>
<polygon points="577.43,364.50 582.13,373.90 572.73,373.90" fill="#7e8937" stroke="#000" stroke-width="2.45" fill-opacity="0.9" stroke-opacity="0.9" stroke-linejoin="miter"/>
<polygon points="590.02,364.50 594.72,373.90 585.32,373.90" fill="#7e8937" stroke="#000" stroke-width="2.45" fill-opacity="0.9" stroke-opacity="0.9" stroke-linejoin="miter"/>
<text x="363.40" y="441" font-size="29" text-anchor="middle">50</text>
<text x="489.30" y="441" font-size="29" text-anchor="middle">100</text>
<text x="236.8" y="335.90" font-size="29" text-anchor="end">1</text>
<text x="238.6" y="379.80" font-size="29" text-anchor="end">0</text>
<text x="236.8" y="423.70" font-size="29" text-anchor="end">1</text>
<rect x="205" y="415.10" width="17.3" height="1.5" fill="#000"/>
<text x="412.1" y="474.8" font-size="29" font-style="italic" textLength="23.5" lengthAdjust="spacingAndGlyphs">N</text>
<text x="433.8" y="479.6" font-size="20" font-style="italic">s</text>
<text transform="translate(188.4,442.2) rotate(-90)" font-size="26.5" textLength="146" lengthAdjust="spacingAndGlyphs">training loss</text>
<rect x="111.7" y="507.3" width="555.0999999999999" height="75.19999999999999" fill="#fff" stroke="#000" stroke-width="2.4"/>
<line x1="119.2" y1="525.7" x2="169.5" y2="525.7" stroke="#d99a25" stroke-opacity="0.9" stroke-width="3.6"/>
<circle cx="144.35" cy="525.70" r="7.00" fill="#d99a25" stroke="#000" stroke-width="2.45" fill-opacity="0.9" stroke-opacity="0.9"/>
<line x1="119.2" y1="559.4" x2="169.5" y2="559.4" stroke="#435ea6" stroke-opacity="0.9" stroke-width="3.6"/>
<polygon points="144.35,549.50 154.25,559.40 144.35,569.30 134.45,559.40" fill="#435ea6" stroke="#000" stroke-width="2.45" fill-opacity="0.9" stroke-opacity="0.9" stroke-linejoin="miter"/>
<line x1="362.3" y1="525.7" x2="413" y2="525.7" stroke="#7f90cd" stroke-opacity="0.9" stroke-width="3.6"/>
<rect x="380.65" y="518.70" width="14.00" height="14.00" fill="#7f90cd" stroke="#000" stroke-width="2.45" fill-opacity="0.9" stroke-opacity="0.9"/>
<line x1="362.3" y1="559.4" x2="413" y2="559.4" stroke="#7e8937" stroke-opacity="0.9" stroke-width="3.6"/>
<polygon points="387.65,552.40 394.65,566.40 380.65,566.40" fill="#7e8937" stroke="#000" stroke-width="2.45" fill-opacity="0.9" stroke-opacity="0.9" stroke-linejoin="miter"/>
<text x="185.7" y="534" font-size="24.6" textLength="53" lengthAdjust="spacingAndGlyphs">exact</text>
<text x="185.7" y="567.8" font-size="24.6" textLength="129" lengthAdjust="spacingAndGlyphs">est. (SWAP)</text>
<text x="429" y="534" font-size="24.6" textLength="226.5" lengthAdjust="spacingAndGlyphs">est. (Loschmidt Echo)</text>
<text x="429" y="567.8" font-size="24.6" textLength="77.5" lengthAdjust="spacingAndGlyphs">random</text>
</svg></body></html>
